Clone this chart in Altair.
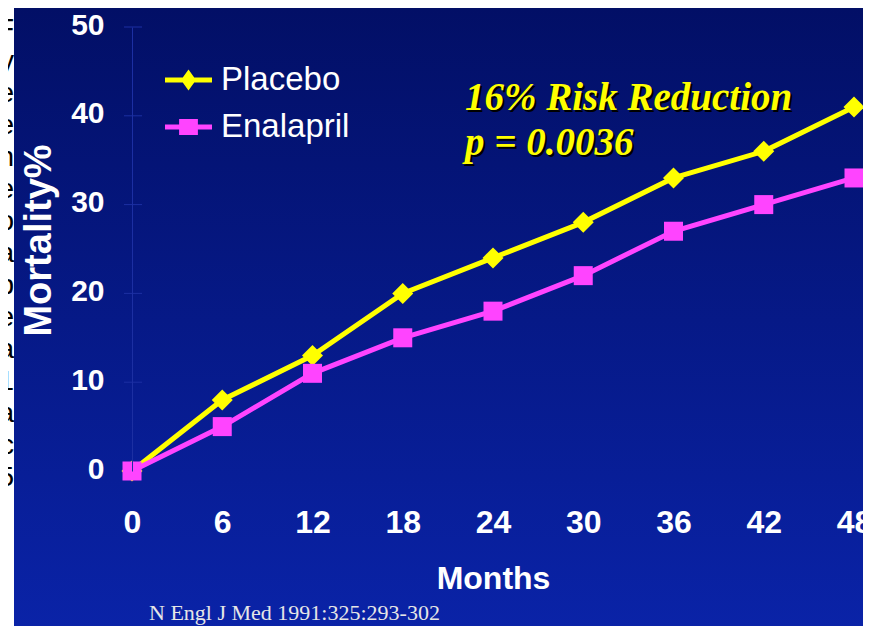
import altair as alt
import pandas as pd

# ---- data ----
months = [0, 6, 12, 18, 24, 30, 36, 42, 48]
placebo = [0, 8, 13, 20, 24, 28, 33, 36, 41]
enalapril = [0, 5, 11, 15, 18, 22, 27, 30, 33]
series_names = ["Placebo", "Enalapril"]
series_colors = ["#FFFF00", "#FF44FF"]
y_ticks = [0, 10, 20, 30, 40, 50]
annotation_lines = ["16% Risk Reduction", "p = 0.0036"]
citation = "N Engl J Med 1991:325:293-302"
strip_letters = ["F", "ty", "e", "e", "n", "", "ce", "o", "ala", "b", "e", "a", "",
                 "51", "a", "oc", "5"]

df = pd.DataFrame({
    "month": months * 2,
    "mortality": placebo + enalapril,
    "series": [series_names[0]] * len(months) + [series_names[1]] * len(months),
})
ticks_df = pd.DataFrame({"tick": y_ticks})
one = pd.DataFrame({"k": [0]})

# ---- geometry (page px -> plot px: x-132, y-27) ----
W, H = 722, 444
PAD = {"left": 124, "top": 19, "right": 9, "bottom": 155}
OX, OY = 132, 27
axis_color = "#1C2FA2"
sans = "Liberation Sans"
serif = "Liberation Serif"

xscale = alt.Scale(domain=[0, 48], nice=False, zero=False)
yscale = alt.Scale(domain=[0, 50], nice=False)

x_axis = alt.Axis(values=months, domain=False, ticks=False, tickSize=0, grid=False,
                  labelPadding=61, labelBaseline="alphabetic", labelFontSize=32,
                  labelFont=sans, labelFontWeight="bold", labelColor="white",
                  labelFlush=False, labelOverlap=False, labelBound=False,
                  title="Months", titleFontSize=32, titleFont=sans, titleFontWeight="bold",
                  titleColor="white", titleX=361, titleY=117, titleBaseline="alphabetic",
                  titleAlign="center", zindex=1)
y_axis = alt.Axis(values=y_ticks, domain=True, domainColor=axis_color, domainWidth=1,
                  ticks=False, tickSize=0, grid=False,
                  labelPadding=28, labelBaseline="alphabetic", labelOffset=7,
                  labelFontSize=30, labelFont=sans, labelFontWeight="bold", labelColor="white",
                  labelFlush=False, labelOverlap=False, labelBound=False,
                  title="Mortality%", titleFontSize=38, titleFont=sans, titleFontWeight="bold",
                  titleColor="white", titleAngle=270, titleX=-82, titleY=213,
                  titleBaseline="alphabetic", titleAlign="center", zindex=1)

# ---- background slide ----
bg = alt.Chart(one).mark_rect(
    fill=alt.Gradient(gradient="linear",
                      stops=[alt.GradientStop(color="#020F66", offset=0),
                             alt.GradientStop(color="#0A23A8", offset=1)],
                      x1=0, x2=0, y1=0, y2=1)
).encode(x=alt.value(14 - OX), x2=alt.value(870 - OX),
         y=alt.value(7 - OY), y2=alt.value(634 - OY))

strip = alt.Chart(one).mark_text(
    text=strip_letters, align="right", baseline="middle", lineHeight=32,
    font=sans, fontSize=28, color="black"
).encode(x=alt.value(14 - OX), y=alt.value(30 - OY))

tick_rules = alt.Chart(ticks_df).mark_rule(color=axis_color, strokeWidth=1).encode(
    y=alt.Y("tick:Q", scale=yscale, axis=y_axis),
    x=alt.value(-8), x2=alt.value(10))

base = alt.Chart(df).encode(
    x=alt.X("month:Q", scale=xscale, axis=x_axis),
    y=alt.Y("mortality:Q", scale=yscale, axis=y_axis),
)

p_line = base.transform_filter(alt.datum.series == series_names[0]).mark_line(
    color=series_colors[0], strokeWidth=5)
p_pts = base.transform_filter(alt.datum.series == series_names[0]).mark_point(
    shape="diamond", filled=True, size=441, color=series_colors[0], opacity=1)
e_line = base.transform_filter(alt.datum.series == series_names[1]).mark_line(
    color=series_colors[1], strokeWidth=5)
e_pts = base.transform_filter(alt.datum.series == series_names[1]).mark_square(
    size=361, color=series_colors[1], opacity=1)

diamond_path = "M-1,-0.106H1V0.106H-1Z M0,-0.45L0.32,0L0,0.45L-0.32,0Z"
square_path = "M-1,-0.106H1V0.106H-1Z M-0.4,-0.34H0.4V0.34H-0.4Z"
leg = alt.Legend(title=None, orient="none", legendX=33, legendY=29.5, symbolSize=2209,
                 labelFontSize=33, labelFont=sans, labelColor="white", labelOffset=9,
                 rowPadding=6, padding=0, symbolStrokeWidth=0, labelLimit=400,
                 symbolOpacity=1, direction="vertical", zindex=1)
legend_layer = alt.Chart(df).transform_filter("false").mark_point(filled=True, opacity=1).encode(
    x=alt.X("month:Q", scale=xscale, axis=x_axis),
    y=alt.Y("mortality:Q", scale=yscale, axis=y_axis),
    color=alt.Color("series:N", scale=alt.Scale(domain=series_names, range=series_colors),
                    legend=leg),
    shape=alt.Shape("series:N", scale=alt.Scale(domain=series_names,
                                                range=[diamond_path, square_path]),
                    legend=leg),
)

ann_kw = dict(text=annotation_lines, align="left", baseline="alphabetic", lineHeight=45,
              font=serif, fontSize=39, fontStyle="italic", fontWeight="bold")
ann_shadow = alt.Chart(one).mark_text(color="black", dx=2, dy=2, **ann_kw).encode(
    x=alt.value(465 - OX), y=alt.value(110 - OY))
ann = alt.Chart(one).mark_text(color="#FFFF00", **ann_kw).encode(
    x=alt.value(465 - OX), y=alt.value(110 - OY))

cite = alt.Chart(one).mark_text(
    text=citation, align="left", baseline="alphabetic", font=serif, fontSize=22,
    color="#E6E6E6"
).encode(x=alt.value(149 - OX), y=alt.value(620 - OY))

chart = alt.layer(
    bg, strip, tick_rules, p_line, p_pts, e_line, e_pts, legend_layer, ann_shadow, ann, cite
).properties(
    width=W, height=H,
    autosize=alt.AutoSizeParams(type="none"),
    padding=PAD,
    background="white",
).configure_view(stroke=None)

chart.save("out.html", embed_options={"renderer": "svg", "actions": False})
